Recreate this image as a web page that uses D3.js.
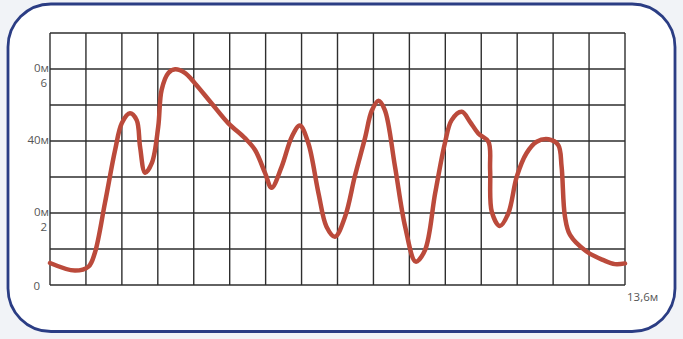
<!DOCTYPE html>
<html>
<head>
<meta charset="utf-8">
<script src="https://cdn.jsdelivr.net/npm/d3@7"></script>
<style>
  html, body { margin: 0; padding: 0; background: #f1f3f7; }
  svg { display: block; }
  text { font-family: "Open Sans", "DejaVu Sans", sans-serif; }
</style>
</head>
<body>
<script>
// ---- data ----
const xDomain = [0, 13.6];
const yDomain = [0, 70];
const gridColumns = 16;
const gridRows = 7;
const xValues = [0, 0.59, 0.91, 1.06, 1.30, 1.54, 1.70, 1.89, 2.05, 2.13, 2.25, 2.41, 2.56, 2.64, 2.80, 2.96,
  3.19, 3.43, 3.82, 4.22, 4.61, 4.85, 5.09, 5.24, 5.48, 5.72, 5.91, 6.11, 6.35, 6.54, 6.74, 6.98,
  7.21, 7.45, 7.61, 7.77, 7.92, 8.16, 8.40, 8.65, 8.87, 9.11, 9.34, 9.50, 9.74, 9.93, 10.13, 10.37,
  10.41, 10.45, 10.64, 10.84, 11.04, 11.27, 11.51, 11.79, 12.02, 12.10, 12.18, 12.30, 12.69, 13.09, 13.36, 13.6];
const yValues = [6.1, 4.0, 5.1, 8.9, 22.8, 37.5, 45.0, 47.7, 45.8, 38.4, 31.2, 33.9, 44.0, 54.2, 58.9, 59.9,
  58.9, 56.0, 50.5, 44.9, 40.8, 37.5, 31.0, 27.0, 32.9, 41.2, 44.3, 39.4, 25.5, 16.2, 13.4, 19.0,
  30.2, 40.8, 48.4, 51.2, 48.6, 32.9, 16.2, 6.5, 9.7, 25.5, 39.4, 45.8, 48.1, 45.4, 42.1, 39.8,
  31.9, 20.3, 16.4, 19.9, 30.1, 36.6, 39.8, 40.5, 38.9, 32.9, 19.0, 13.9, 9.3, 6.9, 5.8, 6.0];
const yTickValues = [0, 20, 40, 60];
const yTickLabels = [["0"], ["0м", "2"], ["40м"], ["0м", "6"]];
const xEndLabel = "13,6м";

// ---- layout ----
const W = 683, H = 339;
const plot = { left: 50, right: 625, top: 33, bottom: 285 };

const svg = d3.select("body").append("svg").attr("width", W).attr("height", H);

// background frame
svg.append("rect")
  .attr("x", 8).attr("y", 4).attr("width", 667).attr("height", 327.5)
  .attr("rx", 43).attr("ry", 43)
  .attr("fill", "#ffffff").attr("stroke", "#2b3d84").attr("stroke-width", 2.8);

const x = d3.scaleLinear().domain(xDomain).range([plot.left, plot.right]);
const y = d3.scaleLinear().domain(yDomain).range([plot.bottom, plot.top]);

// grid
const xGrid = d3.range(gridColumns + 1).map(i => xDomain[0] + (xDomain[1] - xDomain[0]) * i / gridColumns);
const yGrid = d3.range(gridRows + 1).map(i => yDomain[0] + (yDomain[1] - yDomain[0]) * i / gridRows);

const g = svg.append("g");
g.selectAll("line.v").data(xGrid).enter().append("line")
  .attr("x1", d => x(d)).attr("x2", d => x(d))
  .attr("y1", plot.top).attr("y2", plot.bottom)
  .attr("stroke", "#2e2e2e").attr("stroke-width", 1.4);
g.selectAll("line.h").data(yGrid).enter().append("line")
  .attr("x1", plot.left).attr("x2", plot.right)
  .attr("y1", d => y(d)).attr("y2", d => y(d))
  .attr("stroke", "#2e2e2e").attr("stroke-width", 1.4);

// y labels
const lab = svg.append("g").attr("fill", "#555").attr("font-size", 11.5);
yTickValues.forEach((v, i) => {
  const lines = yTickLabels[i];
  if (v === 0) {
    lab.append("text").attr("x", plot.left - 10).attr("y", y(v) + 2)
      .attr("text-anchor", "end").attr("dominant-baseline", "middle").text(lines[0]);
  } else {
    lines.forEach((t, j) => {
      lab.append("text").attr("x", plot.left - 1 - j * 2).attr("y", y(v) + j * 14.5)
        .attr("text-anchor", "end").attr("dominant-baseline", "middle").text(t);
    });
  }
});

lab.append("text").attr("x", plot.right + 2).attr("y", plot.bottom + 13)
  .attr("dominant-baseline", "middle").text(xEndLabel);

// curve
const pts = xValues.map((d, i) => [d, yValues[i]]);
const line = d3.line().x(d => x(d[0])).y(d => y(d[1])).curve(d3.curveCatmullRom.alpha(0.5));
svg.append("path").attr("d", line(pts))
  .attr("fill", "none").attr("stroke", "#bb4a3b").attr("stroke-width", 4.5)
  .attr("stroke-linejoin", "round").attr("stroke-linecap", "round");
</script>
</body>
</html>
